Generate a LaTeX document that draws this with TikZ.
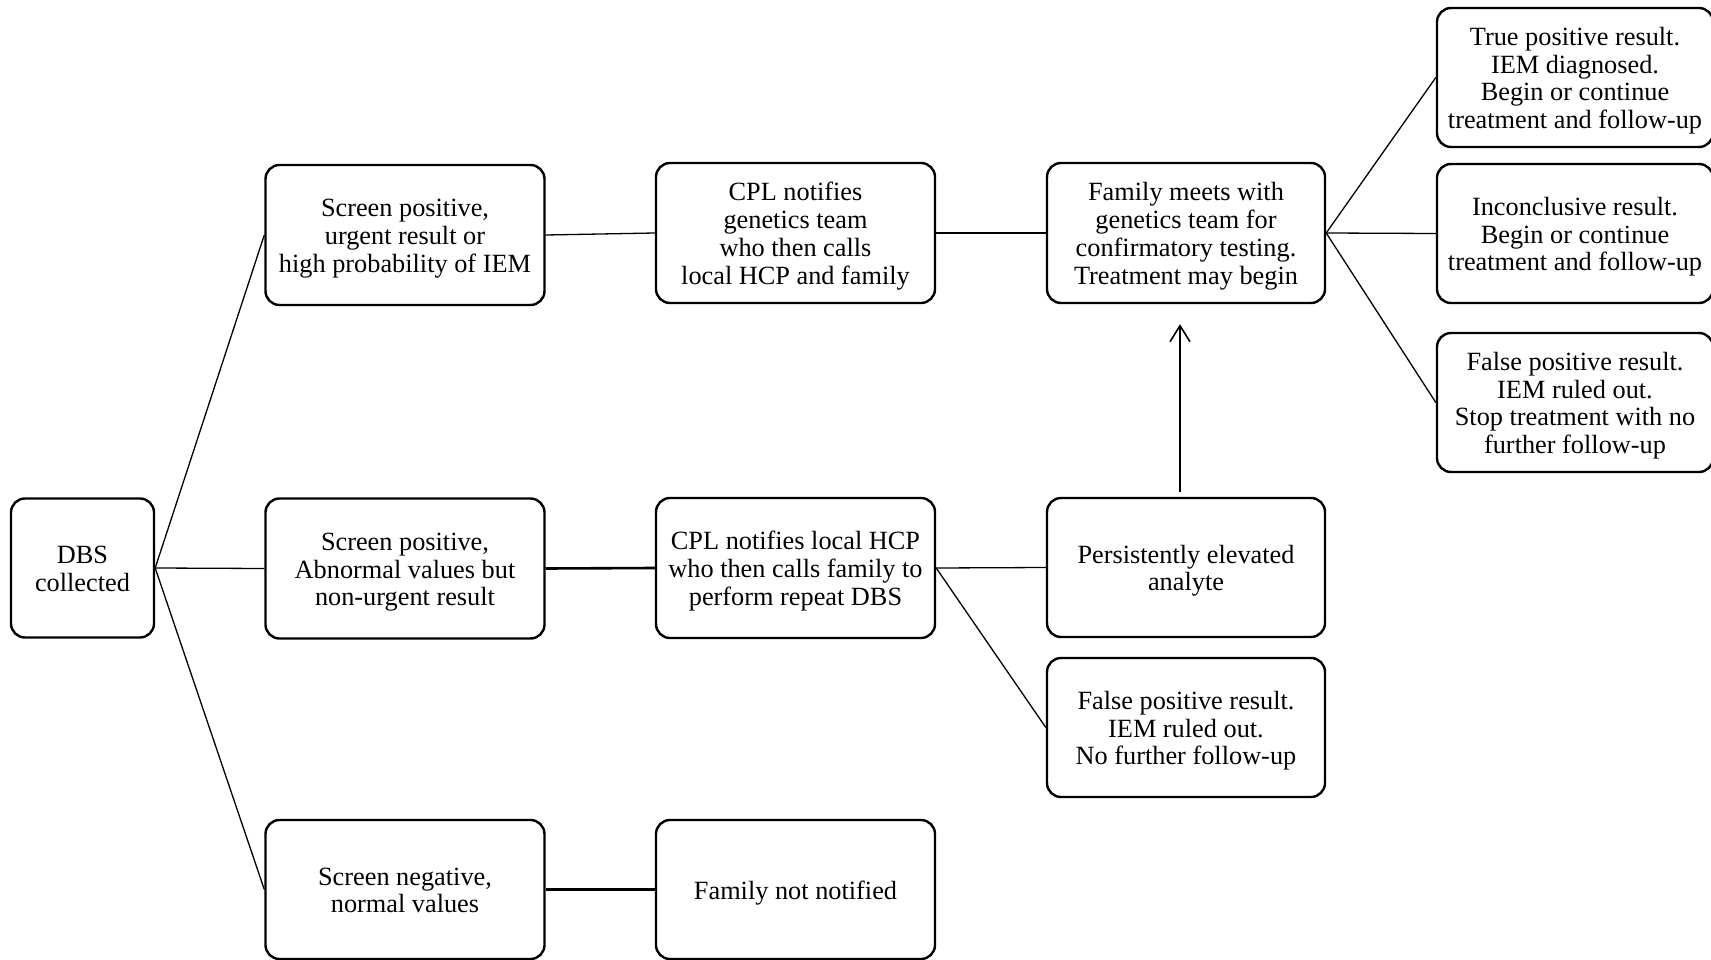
\documentclass[tikz,border=0pt]{standalone}
\usepackage{fontspec}
\setmainfont{Liberation Serif}
\usetikzlibrary{arrows.meta}
\newcommand\bt[1]{\raisebox{-4pt}[\height][\depth]{\begin{tabular}{@{}c@{}}#1\end{tabular}}}
\begin{document}
\begin{tikzpicture}[x=1pt,y=-1pt,
  box/.style={draw, line width=2.4pt, rounded corners=14pt, inner sep=0pt,
    font=\fontsize{26.3}{27.8}\selectfont},
  wbox/.style={box, minimum width=279pt, minimum height=140pt},
  conn/.style={line width=1.3pt},
  thickconn/.style={line width=2.6pt},
  up/.style={line width=1.6pt, -{Straight Barb[length=16pt,width=20pt,line width=1.6pt]}}]
\useasboundingbox (0,0) rectangle (1711,960);
% column 1
\node[box, minimum width=143pt, minimum height=139pt] (dbs) at (82.5,568) {\bt{DBS\\collected}};
% column 2
\node[wbox] (sp1) at (405,235) {\bt{Screen positive,\\urgent result or\\high probability of IEM}};
\node[wbox] (sp2) at (405,568.5) {\bt{Screen positive,\\Abnormal values but\\non-urgent result}};
\node[wbox, minimum height=139pt] (sn) at (405,889.5) {\bt{Screen negative,\\normal values}};
% column 3
\node[wbox] (cpl1) at (795.5,233) {\bt{CPL notifies\\genetics team\\who then calls\\local HCP and family}};
\node[wbox] (cpl2) at (795.5,568) {\bt{CPL notifies local HCP\\who then calls family to\\perform repeat DBS}};
\node[wbox, minimum height=139pt] (fnn) at (795.5,889.5) {\bt{Family not notified}};
% column 4
\node[wbox, minimum width=278pt] (fam) at (1186,233) {\bt{Family meets with\\genetics team for\\confirmatory testing.\\Treatment may begin}};
\node[wbox, minimum width=278pt, minimum height=139pt] (pers) at (1186,567.5) {\bt{Persistently elevated\\analyte}};
\node[wbox, minimum width=278pt, minimum height=139pt] (fp1) at (1186,727.5) {\bt{False positive result.\\IEM ruled out.\\No further follow-up}};
% column 5
\node[box, minimum width=276pt, minimum height=139pt] (tp) at (1575,77.5) {\bt{True positive result.\\IEM diagnosed.\\Begin or continue\\treatment and follow-up}};
\node[box, minimum width=276pt, minimum height=139pt] (inc) at (1575,233.5) {\bt{Inconclusive result.\\Begin or continue\\treatment and follow-up}};
\node[box, minimum width=276pt, minimum height=139pt] (fp2) at (1575,402.5) {\bt{False positive result.\\IEM ruled out.\\Stop treatment with no\\further follow-up}};
% connectors
\draw[conn] (dbs.east) -- (sp1.west);
\draw[conn] (dbs.east) -- (sp2.west);
\draw[conn] (dbs.east) -- (sn.west);
\draw[conn] (sp1.east) -- (cpl1.west);
\draw[thickconn] (sp2.east) -- (cpl2.west);
\draw[thickconn] (sn.east) -- (fnn.west);
\draw[conn] (cpl1.east) -- (fam.west);
\draw[conn] (cpl2.east) -- (pers.west);
\draw[conn] (cpl2.east) -- (fp1.west);
\draw[conn] (fam.east) -- (tp.west);
\draw[conn] (fam.east) -- (inc.west);
\draw[conn] (fam.east) -- (fp2.west);
\draw[up] ([xshift=-6pt,yshift=5pt]pers.north) -- ([xshift=-6pt,yshift=-20pt]fam.south);
\end{tikzpicture}
\end{document}
